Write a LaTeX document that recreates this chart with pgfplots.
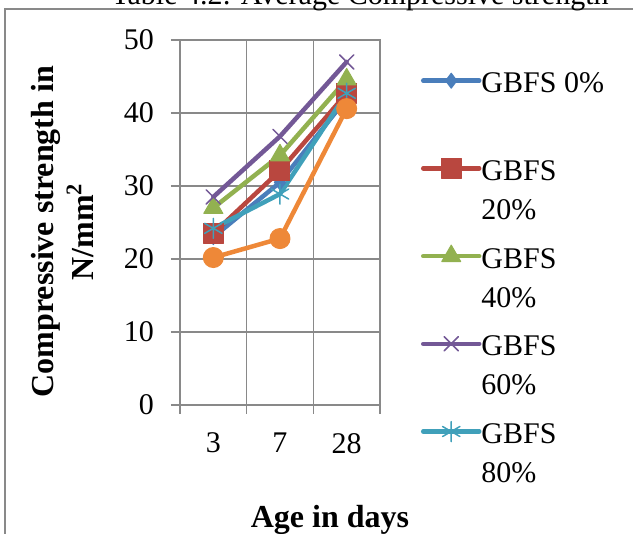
\documentclass[border=0pt]{standalone}
\usepackage{pgfplots}
\pgfplotsset{compat=1.18}
\usepackage{fontspec}
\setmainfont{Liberation Serif}
\definecolor{cblue}{HTML}{4A7EBB}
\definecolor{cred}{HTML}{B9473F}
\definecolor{cgreen}{HTML}{92B150}
\definecolor{cpurple}{HTML}{735896}
\definecolor{ccyan}{HTML}{40A0BA}
\definecolor{corange}{HTML}{EE8838}
\definecolor{gridgray}{HTML}{898989}
\begin{document}
\begin{tikzpicture}
\useasboundingbox (0,0) rectangle (316.5pt,267pt);
\draw[gridgray, line width=0.8pt] (2.5pt,-20pt) rectangle (340pt,262.5pt);
\node[anchor=base, font=\fontsize{15}{18}\selectfont, inner sep=0pt] at (180pt,264.5pt) {Table 4.2: Average Compressive strength};
\begin{axis}[
  at={(90pt,64.5pt)}, anchor=south west,
  scale only axis, width=100pt, height=182.5pt,
  xmin=-0.5, xmax=2.5, ymin=0, ymax=50,
  xtick={-0.5,0.5,1.5,2.5}, xticklabels={},
  extra x ticks={0,1,2}, extra x tick labels={3,7,28},
  extra x tick style={major tick length=0pt, grid=none},
  ytick={0,10,...,50},
  grid=major,
  grid style={gridgray, line width=0.8pt},
  axis line style={gridgray, line width=0.8pt},
  tick style={gridgray, line width=0.8pt},
  tick align=outside, tick pos=left, major tick length=4.5pt,
  /pgf/number format/assume math mode=true,
  ticklabel style={font=\fontsize{15}{18}\selectfont},
  yticklabel style={xshift=-5pt},
  xticklabel style={yshift=-10.5pt},
  every axis y label/.style={at={(axis description cs:-0.585,0.475)}, rotate=90, anchor=center, align=center, font=\bfseries\fontsize{16}{20}\selectfont},
  ylabel={Compressive strength in\\N/mm\textsuperscript{2}},
  every axis x label/.style={at={(axis description cs:0.75,-0.315)}, anchor=center, font=\bfseries\fontsize{16}{20}\selectfont},
  xlabel={Age in days},
  legend style={at={(axis description cs:1.205,0.93)}, anchor=north west, draw=none, fill=none, inner sep=0pt, outer sep=0pt, nodes={inner sep=0pt}, row sep=28.7pt, font=\fontsize{15}{19.5}\selectfont, /tikz/every even column/.style={column sep=2pt}},
  legend cell align=left,
  legend image code/.code={\draw[line cap=round, mark repeat=2, mark phase=2] plot coordinates {(0pt,0pt)(14pt,0pt)(28pt,0pt)};},
  every axis plot/.append style={line width=2.25pt, line join=round, line cap=round},
]
\addplot[cblue, mark=diamond*, mark size=3.75pt, mark options={solid, fill=cblue, line width=0.5pt}] coordinates {(0,23.0) (1,30.5) (2,42.0)};
\addlegendentry{\begin{tabular}[t]{@{}l@{}}GBFS 0\%\\ \strut\end{tabular}}
\addplot[cred, mark=square*, mark size=5pt, mark options={solid, fill=cred, line width=0.5pt}] coordinates {(0,23.5) (1,32.1) (2,42.7)};
\addlegendentry{\begin{tabular}[t]{@{}l@{}}GBFS\\20\%\end{tabular}}
\addplot[cgreen, mark=triangle*, mark size=5.5pt, mark options={solid, fill=cgreen, line width=0.5pt}] coordinates {(0,27.0) (1,34.2) (2,44.6)};
\addlegendentry{\begin{tabular}[t]{@{}l@{}}GBFS\\40\%\end{tabular}}
\addplot[cpurple, mark=x, mark size=5pt, mark options={solid, line width=0.75pt}] coordinates {(0,28.5) (1,36.8) (2,47.0)};
\addlegendentry{\begin{tabular}[t]{@{}l@{}}GBFS\\60\%\end{tabular}}
\addplot[ccyan, mark=asterisk, mark size=5pt, mark options={solid, line width=0.75pt}] coordinates {(0,24.2) (1,28.9) (2,42.7)};
\addlegendentry{\begin{tabular}[t]{@{}l@{}}GBFS\\80\%\end{tabular}}
\addplot[corange, mark=*, mark size=5pt, mark options={solid, fill=corange, line width=0.5pt}, forget plot] coordinates {(0,20.2) (1,22.8) (2,40.6)};
\end{axis}
\end{tikzpicture}
\end{document}
